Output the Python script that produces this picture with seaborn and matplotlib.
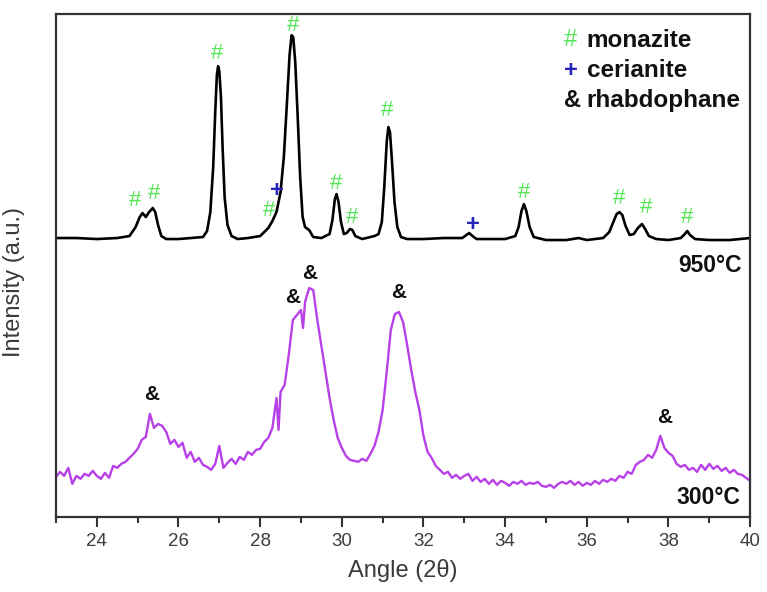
import matplotlib
matplotlib.use("Agg")
import matplotlib.pyplot as plt
import seaborn as sns
import numpy as np
from matplotlib.ticker import MultipleLocator

# ---- data: 950 C pattern (angle, intensity a.u.) ----
x950 = [23.0, 23.5, 24.0, 24.5, 24.8, 24.95, 25.05, 25.12, 25.2, 25.28, 25.37, 25.43, 25.5,
        25.58, 25.7, 26.0, 26.3, 26.6, 26.7, 26.78, 26.85, 26.9, 26.94, 26.97, 27.0, 27.04,
        27.08, 27.13, 27.2, 27.3, 27.45, 27.7, 28.0, 28.2, 28.3, 28.4, 28.5, 28.58, 28.65,
        28.72, 28.77, 28.81, 28.86, 28.92, 28.98, 29.04, 29.1, 29.2, 29.3, 29.5, 29.7, 29.77,
        29.83, 29.87, 29.92, 29.98, 30.05, 30.12, 30.2, 30.26, 30.33, 30.5, 30.8, 30.9, 30.98,
        31.04, 31.1, 31.14, 31.18, 31.23, 31.29, 31.36, 31.45, 31.6, 32.0, 32.5, 32.95, 33.05,
        33.12, 33.2, 33.3, 33.6, 34.0, 34.25, 34.33, 34.4, 34.46, 34.52, 34.6, 34.7, 35.0,
        35.5, 35.8, 36.0, 36.4, 36.55, 36.65, 36.73, 36.8, 36.87, 36.95, 37.05, 37.15, 37.25,
        37.35, 37.43, 37.52, 37.7, 38.0, 38.3, 38.4, 38.46, 38.53, 38.65, 39.0, 39.5, 40.0]
y950 = [279, 279, 278, 279, 281, 290, 300, 304, 300, 305, 309, 305, 292,
        281, 278, 278, 279, 280, 286, 305, 350, 405, 442, 451, 446, 420,
        370, 320, 292, 281, 278, 279, 281, 289, 296, 305, 325, 360, 410,
        462, 482, 480, 455, 400, 340, 300, 290, 287, 280, 279, 283, 297,
        318, 323, 315, 295, 283, 284, 288, 287, 281, 278, 281, 283, 295,
        330, 375, 390, 385, 355, 315, 290, 280, 278, 278, 279, 279, 282,
        284, 281, 278, 278, 278, 281, 290, 306, 313, 306, 290, 280, 277,
        277, 279, 277, 279, 285, 295, 303, 305, 302, 291, 282, 283, 289,
        293, 288, 281, 278, 277, 279, 283, 286, 282, 278, 277, 277, 279]

# ---- data: 300 C pattern ----
x300 = [23.0, 23.1, 23.2, 23.3, 23.4, 23.5, 23.6, 23.7, 23.8, 23.9, 24.0, 24.1, 24.2, 24.3,
        24.4, 24.5, 24.6, 24.7, 24.8, 24.9, 25.0, 25.1, 25.2, 25.3, 25.4, 25.5, 25.6, 25.7,
        25.8, 25.9, 26.0, 26.1, 26.2, 26.3, 26.4, 26.5, 26.6, 26.7, 26.8, 26.9, 27.0, 27.1,
        27.2, 27.3, 27.4, 27.5, 27.6, 27.7, 27.8, 27.9, 28.0, 28.1, 28.2, 28.3, 28.4, 28.45,
        28.5, 28.6, 28.7, 28.8, 28.9, 29.0, 29.05, 29.1, 29.2, 29.3, 29.4, 29.5, 29.6, 29.7,
        29.8, 29.9, 30.0, 30.1, 30.2, 30.3, 30.4, 30.5, 30.6, 30.7, 30.8, 30.9, 31.0, 31.1,
        31.2, 31.3, 31.4, 31.5, 31.6, 31.7, 31.8, 31.9, 32.0, 32.1, 32.2, 32.3, 32.4, 32.5,
        32.6, 32.7, 32.8, 32.9, 33.0, 33.1, 33.2, 33.3, 33.4, 33.5, 33.6, 33.7, 33.8, 33.9,
        34.0, 34.1, 34.2, 34.3, 34.4, 34.5, 34.6, 34.7, 34.8, 34.9, 35.0, 35.1, 35.2, 35.3,
        35.4, 35.5, 35.6, 35.7, 35.8, 35.9, 36.0, 36.1, 36.2, 36.3, 36.4, 36.5, 36.6, 36.7,
        36.8, 36.9, 37.0, 37.1, 37.2, 37.3, 37.4, 37.5, 37.6, 37.7, 37.8, 37.9, 38.0, 38.1,
        38.2, 38.3, 38.4, 38.5, 38.6, 38.7, 38.8, 38.9, 39.0, 39.1, 39.2, 39.3, 39.4, 39.5,
        39.6, 39.7, 39.8, 39.9, 40.0]
y300 = [40, 45, 41, 49, 33, 41, 38, 43, 41, 46, 41, 38, 44, 39,
        51, 49, 53, 55, 59, 63, 68, 77, 80, 103, 89, 93, 91, 85,
        73, 77, 70, 74, 59, 65, 55, 59, 52, 50, 47, 53, 71, 49,
        54, 58, 53, 60, 57, 65, 62, 67, 68, 75, 79, 89, 119, 87,
        125, 132, 162, 197, 202, 207, 189, 215, 229, 227, 197, 171, 145, 119,
        97, 79, 69, 61, 57, 56, 55, 58, 56, 63, 71, 85, 107, 145,
        187, 203, 205, 195, 172, 147, 125, 107, 81, 65, 59, 51, 47, 43,
        45, 39, 42, 38, 41, 43, 36, 40, 35, 38, 33, 37, 32, 36,
        34, 31, 35, 33, 36, 32, 34, 33, 35, 31, 30, 32, 29, 33,
        35, 33, 36, 32, 35, 31, 34, 32, 36, 33, 37, 35, 38, 36,
        41, 39, 45, 43, 52, 55, 57, 62, 59, 67, 81, 69, 64, 61,
        53, 50, 52, 47, 49, 45, 52, 47, 53, 48, 51, 46, 49, 44,
        47, 43, 42, 39, 36]

# ---- peak markers ----
monazite_x = [24.94, 25.4, 26.95, 28.22, 28.8, 29.86, 30.25, 31.12, 34.47, 36.78, 37.45, 38.45]
monazite_y = [317, 324, 464, 307, 492, 334, 300, 407, 325, 319, 310, 300]
cerianite_x = [28.4, 33.2]
cerianite_y = [327, 293]
rhabdo_x = [25.35, 28.8, 29.2, 31.4, 37.9]
rhabdo_y = [122, 219, 244, 224, 99]

legend_symbols = ["#", "+", "&"]
legend_names = ["monazite", "cerianite", "rhabdophane"]
sample_labels = ["950°C", "300°C"]

GREEN = "#55e655"
BLUE = "#2424b8"
MAGENTA = "#b840e8"
DARK = "#333333"

sns.set_theme(style="white")
plt.rcParams["font.family"] = ["Liberation Sans", "DejaVu Sans"]

fig = plt.figure(figsize=(7.67, 5.92), dpi=100)
ax = fig.add_axes([0.073, 0.127, 0.905, 0.849])

sns.lineplot(x=x950, y=y950, ax=ax, color="black", linewidth=1.9, sort=False)
sns.lineplot(x=x300, y=y300, ax=ax, color=MAGENTA, linewidth=1.7, sort=False)

for xv, yv in zip(monazite_x, monazite_y):
    ax.text(xv, yv, "#", color=GREEN, fontsize=16, ha="center", va="center")
for xv, yv in zip(cerianite_x, cerianite_y):
    ax.text(xv, yv, "+", color=BLUE, fontsize=17, fontweight="bold", ha="center", va="center")
for xv, yv in zip(rhabdo_x, rhabdo_y):
    ax.text(xv, yv, "&", color="#111111", fontsize=15, fontweight="bold", ha="center", va="center")

# legend-like text block
sym_colors = [GREEN, BLUE, "#111111"]
leg_y = [477, 447, 417]
for s, n, c, yy in zip(legend_symbols, legend_names, sym_colors, leg_y):
    ax.text(35.45, yy, s, color=c, fontsize=17, fontweight="bold" if s != "#" else "normal",
            ha="left", va="center")
    ax.text(36.0, yy, n, color="#111111", fontsize=17.5, fontweight="bold",
            ha="left", va="center")

ax.text(39.8, 252, sample_labels[0], color="#111111", fontsize=16.5, fontweight="bold",
        ha="right", va="center")
ax.text(39.76, 19, sample_labels[1], color="#111111", fontsize=16.5, fontweight="bold",
        ha="right", va="center")

ax.set_xlim(23, 40)
ax.set_ylim(0, 503)
ax.xaxis.set_major_locator(MultipleLocator(2))
ax.xaxis.set_minor_locator(MultipleLocator(1))
ax.set_yticks([])
ax.tick_params(axis="x", which="major", direction="out", length=7, width=1.5,
               color=DARK, labelsize=13.5, labelcolor="#3c3c3c", pad=5, bottom=True)
ax.tick_params(axis="x", which="minor", direction="out", length=4, width=1.5,
               color=DARK, bottom=True)

for sp in ax.spines.values():
    sp.set_color(DARK)
    sp.set_linewidth(1.6)
    sp.set_visible(True)

ax.set_xlabel("Angle (2θ)", fontsize=17, color="#3a3a3a", labelpad=6)
ax.set_ylabel("Intensity (a.u.)", fontsize=17, color="#3a3a3a")
ax.yaxis.set_label_coords(-0.045, 0.467)

fig.savefig("out.png", dpi=100)
